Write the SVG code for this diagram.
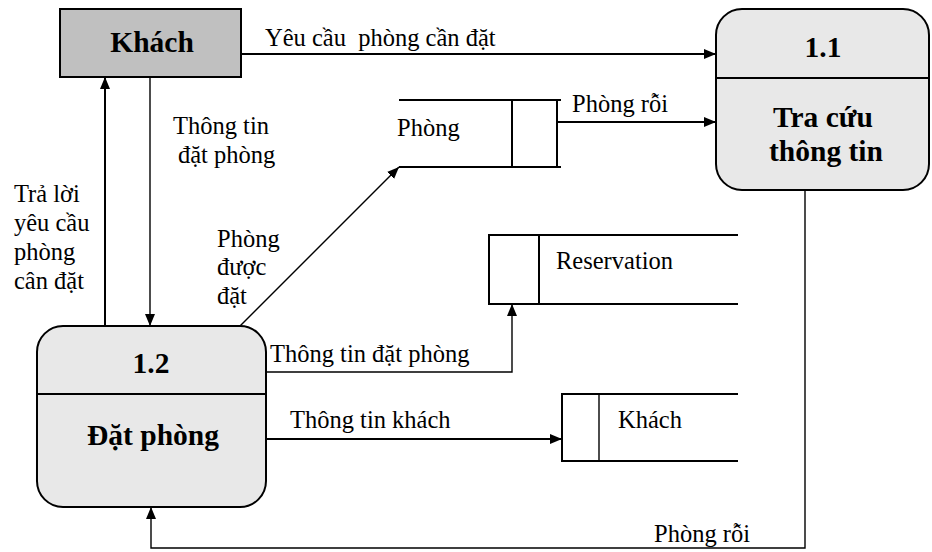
<svg xmlns="http://www.w3.org/2000/svg" width="932" height="552" viewBox="0 0 932 552">
  <style>
    .lbl { font-family: "Liberation Serif", "Times New Roman", serif; font-size: 24.5px; fill: #000; }
    .ttl { font-family: "Liberation Serif", "Times New Roman", serif; font-size: 29.5px; font-weight: bold; fill: #000; }
    .flow { fill: none; stroke: #000; stroke-width: 2; }
    .flow.thin { stroke-width: 1.4; }
    .store { fill: none; stroke: #000; stroke-width: 2; }
    .proc { fill: #e8e8e8; stroke: #000; stroke-width: 2; }
  </style>
  <defs>
    <marker id="arrow" viewBox="0 0 12 10" refX="12" refY="5" markerWidth="12" markerHeight="10" markerUnits="userSpaceOnUse" orient="auto">
      <path d="M0,0 L12,5 L0,10 Z" fill="#000"/>
    </marker>
  </defs>

  <rect width="932" height="552" fill="#fff"/>

  <!-- External entity: Khách -->
  <g id="entity-khach">
    <rect x="60" y="9" width="181" height="68" fill="#c0c0c0" stroke="#000" stroke-width="2"/>
    <text class="ttl" x="152" y="52" text-anchor="middle">Khách</text>
  </g>

  <!-- Process 1.1 -->
  <g id="proc-1-1">
    <rect class="proc" x="716" y="9" width="213" height="181" rx="26" ry="26"/>
    <line x1="716" y1="78" x2="929" y2="78" stroke="#000" stroke-width="2"/>
    <text class="ttl" x="823" y="57" text-anchor="middle">1.1</text>
    <text class="ttl" x="823" y="127" text-anchor="middle">Tra cứu</text>
    <text class="ttl" x="826" y="161" text-anchor="middle">thông tin</text>
  </g>

  <!-- Process 1.2 -->
  <g id="proc-1-2">
    <rect class="proc" x="37" y="326" width="229" height="181" rx="26" ry="26"/>
    <line x1="37" y1="394" x2="266" y2="394" stroke="#000" stroke-width="2"/>
    <text class="ttl" x="151" y="373" text-anchor="middle">1.2</text>
    <text class="ttl" x="153" y="445" text-anchor="middle">Đặt phòng</text>
  </g>

  <!-- Data store: Phòng -->
  <g id="store-phong">
    <path class="store" d="M399,100 H561 M399,167 H561 M512,100 V167 M557,100 V167"/>
    <text class="lbl" x="397" y="136">Phòng</text>
  </g>

  <!-- Data store: Reservation -->
  <g id="store-reservation">
    <path class="store" d="M738,235 H489 V304 H738 M539,235 V304"/>
    <text class="lbl" x="556" y="269">Reservation</text>
  </g>

  <!-- Data store: Khách -->
  <g id="store-khach">
    <path class="store" d="M738,394 H562 V461 H738"/>
    <line x1="599" y1="394" x2="599" y2="461" stroke="#000" stroke-width="1.4"/>
    <text class="lbl" x="618" y="428">Khách</text>
  </g>

  <!-- Data flows -->
  <g id="flows">
    <line class="flow" x1="241" y1="54" x2="716" y2="54" marker-end="url(#arrow)"/>
    <line class="flow" x1="557" y1="122" x2="716" y2="122" marker-end="url(#arrow)"/>
    <line class="flow" x1="105" y1="326" x2="105" y2="77" marker-end="url(#arrow)"/>
    <line class="flow thin" x1="150" y1="77" x2="150" y2="326" marker-end="url(#arrow)"/>
    <line class="flow thin" x1="240" y1="326" x2="399" y2="167" marker-end="url(#arrow)"/>
    <polyline class="flow thin" points="266,372 512,372 512,304" marker-end="url(#arrow)"/>
    <line class="flow" x1="266" y1="439" x2="562" y2="439" marker-end="url(#arrow)"/>
    <polyline class="flow thin" points="805,190 805,548 151,548 151,507" marker-end="url(#arrow)"/>

    <text class="lbl" x="265" y="46" xml:space="preserve">Yêu cầu  phòng cần đặt</text>
    <text class="lbl" x="572" y="112">Phòng rỗi</text>
    <text class="lbl" x="173" y="134">Thông tin</text>
    <text class="lbl" x="178" y="163">đặt phòng</text>
    <text class="lbl" x="14" y="202">Trả lời</text>
    <text class="lbl" x="14" y="231">yêu cầu</text>
    <text class="lbl" x="14" y="260">phòng</text>
    <text class="lbl" x="14" y="289">cân đặt</text>
    <text class="lbl" x="217" y="247">Phòng</text>
    <text class="lbl" x="217" y="275">được</text>
    <text class="lbl" x="217" y="304">đặt</text>
    <text class="lbl" x="270" y="362">Thông tin đặt phòng</text>
    <text class="lbl" x="290" y="428">Thông tin khách</text>
    <text class="lbl" x="654" y="542">Phòng rỗi</text>
  </g>
</svg>
